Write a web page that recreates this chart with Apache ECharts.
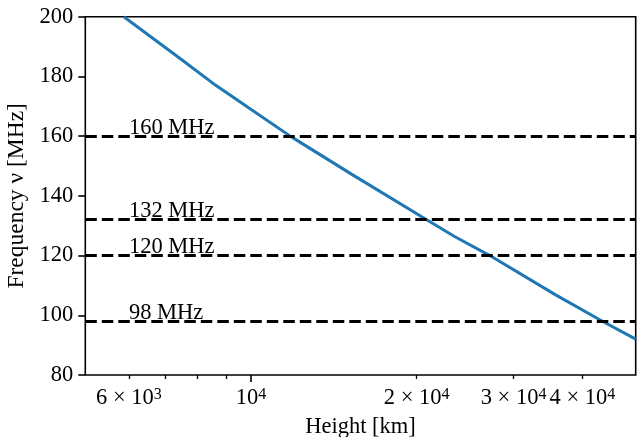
<!DOCTYPE html>
<html><head><meta charset="utf-8">
<script src="https://cdn.jsdelivr.net/npm/echarts@6/dist/echarts.min.js"></script>
<style>html,body{margin:0;padding:0;background:#fff}#c{width:640px;height:437px}</style>
</head><body><div id="c"></div>
<script>
// Curve: height [km] vs frequency [MHz]
const heights = [5873, 7496, 8616, 9901, 11784, 15250, 20855, 23480, 27164, 35640, 43500, 50000];
const freqs   = [200, 185.5, 177.1, 169.5, 160, 147.2, 132, 126.3, 120, 107.0, 98, 92.0];
// Reference horizontal lines
const refFreqs  = [160, 132, 120, 98];
const refLabels = ['160 MHz', '132 MHz', '120 MHz', '98 MHz'];
const refLabelX = 6000;
// Axes
const xMin = 5000, xMax = 50000;
const yMin = 80, yMax = 200, yStep = 20;
const xMajorTicks = [10000];
const xMinorTicks = [6000, 7000, 8000, 9000, 20000, 30000, 40000];
const xLabelValues = [6000, 10000, 20000, 30000, 40000];
const xLabelMant = ['6 × 10', '10', '2 × 10', '3 × 10', '4 × 10'];
const xLabelExp  = ['3', '4', '4', '4', '4'];

const FONT = 'Liberation Serif';
const FS = 22.5;

const chart = echarts.init(document.getElementById('c'), null, {renderer: 'canvas'});

function fmtX(v) {
  let best = 0, bd = Infinity;
  xLabelValues.forEach((t, i) => { const d = Math.abs(Math.log(v) - Math.log(t)); if (d < bd) { bd = d; best = i; } });
  return '{b|' + xLabelMant[best] + '}{s|' + xLabelExp[best] + '}';
}

const curve = heights.map((h, i) => [h, freqs[i]]);
const labelPts = refFreqs.map((f, i) => ({value: [refLabelX, f], name: refLabels[i]}));

chart.setOption({
  animation: false,
  backgroundColor: '#fff',
  grid: {left: 85.3, right: 4.3, top: 16.7, bottom: 62, containLabel: false, outerBoundsMode: 'none',
         show: true, borderColor: '#000', borderWidth: 1.6, backgroundColor: 'transparent'},
  xAxis: [{
    type: 'log', logBase: 10, min: xMin, max: xMax, position: 'bottom',
    name: 'Height [km]', nameLocation: 'middle', nameGap: 41,
    nameTextStyle: {fontFamily: FONT, fontSize: FS, color: '#000'},
    axisLine: {show: false},
    splitLine: {show: false},
    axisTick: {show: true, inside: false, length: 7, lineStyle: {color: '#000', width: 1.6}, customValues: xMajorTicks},
    axisLabel: {
      show: true, margin: 12, customValues: xLabelValues, formatter: fmtX, color: '#000',
      rich: {
        b: {fontFamily: FONT, fontSize: FS, color: '#000'},
        s: {fontFamily: FONT, fontSize: 16, color: '#000', verticalAlign: 'top', lineHeight: 11}
      }
    }
  }, {
    type: 'log', logBase: 10, min: xMin, max: xMax, position: 'bottom', offset: 0,
    axisLine: {show: false}, splitLine: {show: false},
    axisLabel: {show: false},
    axisTick: {show: true, inside: false, length: 4, lineStyle: {color: '#000', width: 1.3}, customValues: xMinorTicks}
  }],
  yAxis: {
    type: 'value', min: yMin, max: yMax, interval: yStep,
    name: 'Frequency ν [MHz]', nameLocation: 'middle', nameGap: 46,
    nameTextStyle: {fontFamily: FONT, fontSize: 23.5, color: '#000'},
    axisLine: {show: false}, splitLine: {show: false},
    axisTick: {show: true, inside: false, length: 7, lineStyle: {color: '#000', width: 1.6}},
    axisLabel: {fontFamily: FONT, fontSize: FS, color: '#000', margin: 12}
  },
  series: [{
    type: 'line', xAxisIndex: 0, data: curve, showSymbol: false, symbol: 'none',
    lineStyle: {color: '#1f77b4', width: 3}, z: 2
  }, {
    type: 'scatter', xAxisIndex: 0, data: labelPts, symbolSize: 0, z: 3,
    itemStyle: {opacity: 1},
    label: {
      show: true, position: [0, 3], align: 'left', verticalAlign: 'bottom',
      formatter: p => p.name, fontFamily: FONT, fontSize: FS, color: '#000', opacity: 1
    },
    markLine: {
      silent: true, symbol: 'none', animation: false,
      label: {show: false},
      lineStyle: {color: '#000', width: 3, type: [11.5, 5], opacity: 1},
      emphasis: {disabled: true},
      data: refFreqs.map(f => ({yAxis: f}))
    }
  }]
});
</script>
</body></html>
